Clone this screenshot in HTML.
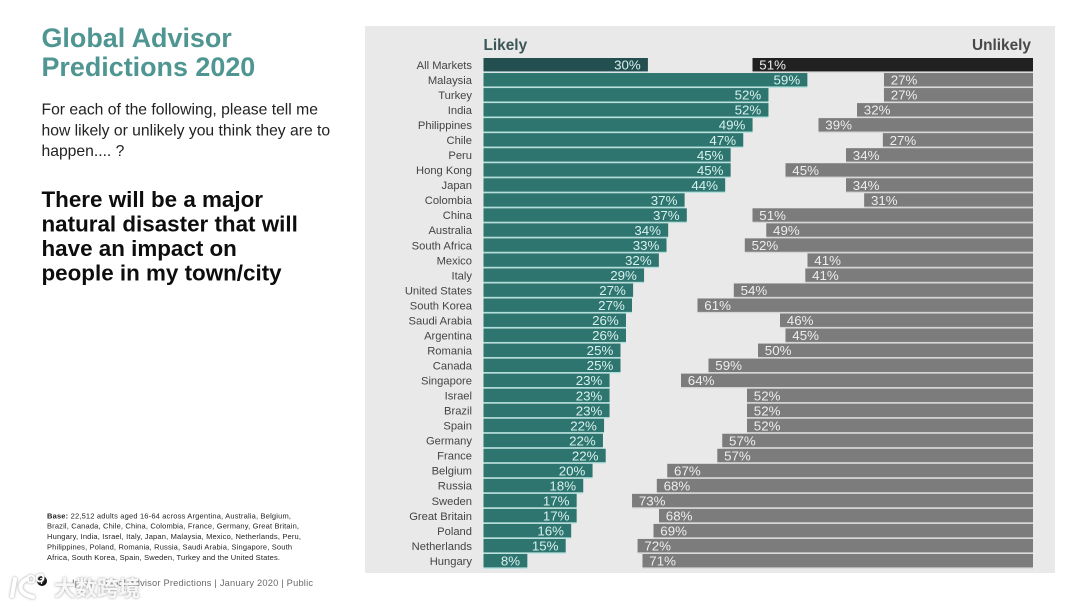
<!DOCTYPE html>
<html lang="en">
<head>
<meta charset="utf-8">
<title>Global Advisor Predictions 2020</title>
<style>
html,body{margin:0;padding:0;background:#fff;width:1080px;height:607px;overflow:hidden}
svg{display:block;font-family:"Liberation Sans","Noto Sans CJK SC",sans-serif}
</style>
</head>
<body>
<svg id="slide" width="1080" height="607" viewBox="0 0 1080 607" xmlns="http://www.w3.org/2000/svg">
  <defs>
    <filter id="soft-shadow" x="-10%" y="-20%" width="120%" height="140%">
      <feDropShadow dx="0" dy="0" stdDeviation="1.2" flood-color="#8c8c8c" flood-opacity="0.9"/>
    </filter>
  </defs>
  <rect width="1080" height="607" fill="#ffffff"/>
  <g font-size="26.900" font-weight="700" fill="#4f9692">
    <text x="41.500" y="47">Global Advisor</text>
    <text x="41.500" y="76">Predictions 2020</text>
  </g>
  <g font-size="15.700" fill="#222222">
    <text x="41.500" y="114.500">For each of the following, please tell me</text>
    <text x="41.500" y="135.500">how likely or unlikely you think they are to</text>
    <text x="41.500" y="156">happen.... ?</text>
  </g>
  <g font-size="22.400" font-weight="700" fill="#0d0d0d">
    <text x="41.500" y="207">There will be a major</text>
    <text x="41.500" y="231.500">natural disaster that will</text>
    <text x="41.500" y="256">have an impact on</text>
    <text x="41.500" y="280.500">people in my town/city</text>
  </g>
  <g font-size="7.500" fill="#222222">
    <text x="47" y="518.500" textLength="244"><tspan font-weight="700">Base:</tspan> 22,512 adults aged 16-64 across Argentina, Australia, Belgium,</text>
    <text x="47" y="528.500" textLength="252">Brazil, Canada, Chile, China, Colombia, France, Germany, Great Britain,</text>
    <text x="47" y="539" textLength="254">Hungary, India, Israel, Italy, Japan, Malaysia, Mexico, Netherlands, Peru,</text>
    <text x="47" y="549.500" textLength="245">Philippines, Poland, Romania, Russia, Saudi Arabia, Singapore, South</text>
    <text x="47" y="560" textLength="233">Africa, South Korea, Spain, Sweden, Turkey and the United States.</text>
  </g>
  <g>
    <circle cx="42" cy="581" r="5" fill="#111111"/>
    <text x="42" y="584" font-size="8" font-weight="700" fill="#ffffff" text-anchor="middle">7</text>
    <text x="72" y="586" font-size="9.300" fill="#6a6a6a" textLength="241">Ipsos Global Advisor Predictions | January 2020 | Public</text>
  </g>
  <g filter="url(#soft-shadow)">
    <g fill="none" stroke="#ffffff" stroke-linecap="round">
      <path d="M15 579 L12 596" stroke-width="4"/>
      <path d="M27 579 C18 583 17 593 33 597" stroke-width="4"/>
      <circle cx="31" cy="579" r="3.500" stroke-width="1.800"/>
      <circle cx="40" cy="578" r="3.500" stroke-width="1.800"/>
    </g>
    <text x="54" y="596" font-size="21.500" font-weight="700" fill="#f7f7f7">大数跨境</text>
  </g>
  <g>
    <rect x="365" y="26" width="690" height="547" fill="#e9e9e9"/>
    <text x="483.500" y="50" font-size="15.400" font-weight="700" fill="#3c5555">Likely</text>
    <text x="1031" y="50" font-size="15.400" font-weight="700" fill="#484848" text-anchor="end">Unlikely</text>
    <g id="rows"></g>
  </g>
</svg>
<script>
const categories = ["All Markets","Malaysia","Turkey","India","Philippines","Chile","Peru","Hong Kong","Japan","Colombia","China","Australia","South Africa","Mexico","Italy","United States","South Korea","Saudi Arabia","Argentina","Romania","Canada","Singapore","Israel","Brazil","Spain","Germany","France","Belgium","Russia","Sweden","Great Britain","Poland","Netherlands","Hungary"];
const likelyValues = [30,59.1,52,52,49.1,47.4,45.1,45.1,44.1,36.7,37.1,33.7,33.4,32,29.3,27.3,27.1,26,26,25,25,23,23,23,22,21.8,22.3,19.9,18.2,17,17,16,15,8];
const unlikelyValues = [51,27.1,27.1,32,39,27.3,34,45,34,30.7,51,48.5,52.4,41,41.4,54.4,61,46,45,50,59,64,52,52,52,56.5,57.4,66.5,68.4,72.9,68,69,71.9,71];

const NS = 'http://www.w3.org/2000/svg';
const rowsGroup = document.getElementById('rows');
function xLikely(v) { return 483.5 + v * 5.48; }
function xUnlikely(v) { return 1033 - v * 5.5; }
function rowY(i) { return 58 + i * 15.03; }
function make(tag, attrs, text) {
  const el = document.createElementNS(NS, tag);
  for (const k in attrs) el.setAttribute(k, attrs[k]);
  if (text !== undefined) el.textContent = text;
  return el;
}
function slug(s) { return s.toLowerCase().replace(/\s+/g, '-'); }
const BAR_H = 13.4;
categories.forEach(function (cat, i) {
  const y = rowY(i);
  const total = i === 0;
  const label = make('text', {x: 472, y: y + 10.9, 'font-size': 11.2, fill: '#444444', 'text-anchor': 'end'}, cat);
  
  
  rowsGroup.appendChild(label);

  const lx = xLikely(likelyValues[i]);
  const lHalo = make('rect', {x: 483.5, y: y + BAR_H, width: lx - 483.5, height: 1.3, fill: total ? '#cfe3e2' : '#aee0dc'});
  
  
  rowsGroup.appendChild(lHalo);
  const lBar = make('rect', {x: 483.5, y: y, width: lx - 483.5, height: BAR_H, fill: total ? '#234f50' : '#2e7570'});
  
  
  rowsGroup.appendChild(lBar);
  const lVal = make('text', {x: lx - 7.2, y: y + 11.6, 'font-size': 13.3, fill: '#d9f1ee', 'text-anchor': 'end'}, Math.round(likelyValues[i]) + '%');
  
  
  rowsGroup.appendChild(lVal);

  const ux = xUnlikely(unlikelyValues[i]);
  const uHalo = make('rect', {x: ux, y: y + BAR_H, width: 1033 - ux, height: 1.3, fill: '#d6d6d6'});
  
  
  rowsGroup.appendChild(uHalo);
  const uBar = make('rect', {x: ux, y: y, width: 1033 - ux, height: BAR_H, fill: total ? '#212121' : '#7c7c7c'});
  
  
  rowsGroup.appendChild(uBar);
  const uVal = make('text', {x: ux + 6.8, y: y + 11.6, 'font-size': 13.3, fill: '#eeeeee'}, Math.round(unlikelyValues[i]) + '%');
  
  
  rowsGroup.appendChild(uVal);
});
</script>
</body>
</html>
